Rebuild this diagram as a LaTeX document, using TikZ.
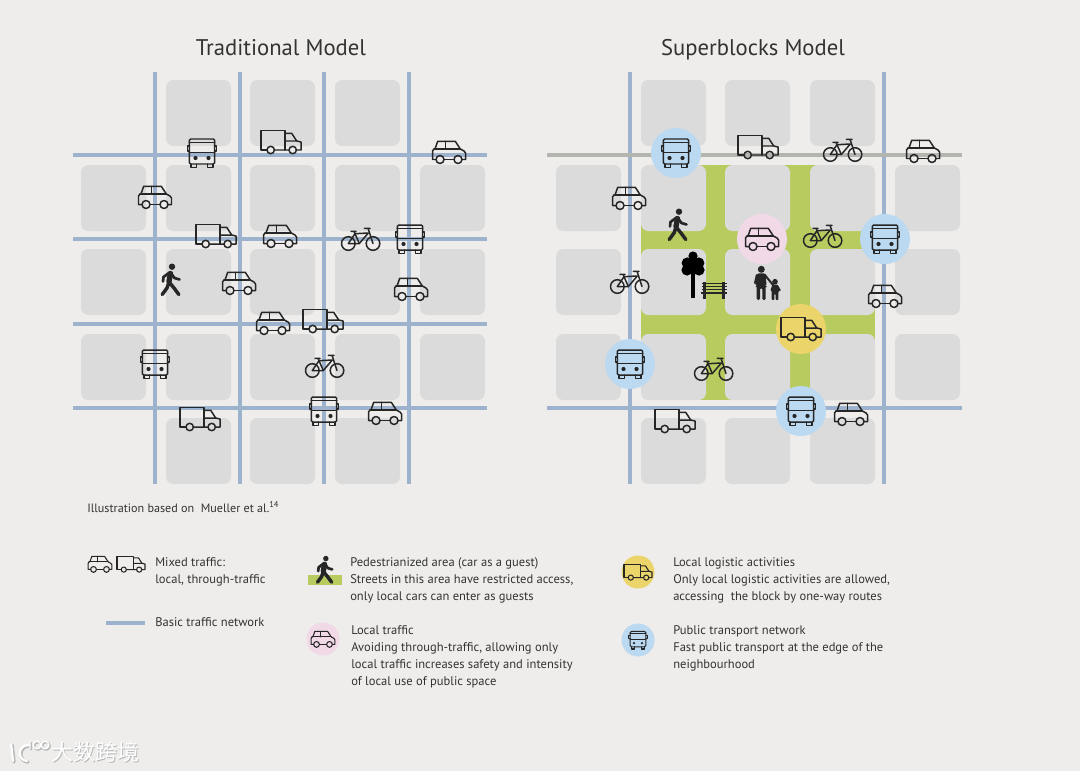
\documentclass[tikz,border=0pt]{standalone}
\usepackage{fontspec}
\setmainfont{PT Sans}
\newfontfamily\cjkwm{Noto Sans CJK SC}
\definecolor{bgc}{HTML}{EEEDEB}
\definecolor{blockc}{HTML}{DBDBDB}
\definecolor{netc}{HTML}{9DB2CC}
\definecolor{grayrd}{HTML}{B5B5B0}
\definecolor{greenc}{HTML}{B7CB5E}
\definecolor{pinkc}{HTML}{F2D9E8}
\definecolor{yelc}{HTML}{EBD56A}
\definecolor{bluec}{HTML}{BBD9F1}
\definecolor{inkc}{HTML}{262626}
\definecolor{textc}{HTML}{333333}
\tikzset{
  x=0.75pt,y=-0.75pt,
  icon/.style={draw=inkc,line width=1.12pt,line join=round,line cap=round},
  block/.style={fill=blockc,rounded corners=5.5pt},
  net/.style={draw=netc,line width=2.3pt},
  legend/.style={font=\fontsize{9.4pt}{12.75pt}\selectfont,text=textc,align=left,inner sep=0pt,anchor=north west},
  title/.style={font=\fontsize{17pt}{20pt}\selectfont,text=textc,inner sep=0pt,anchor=base},
  car/.pic={
    \draw[icon] (-13,7.5)--(-16.5,7.5)--(-16.5,-1)--(-15,-3)--(-14,-3)--(-11.3,-10.7)--(6.3,-10.7)--(11.3,-3)--(15,-1)--(16.5,1)--(16.5,7.5)--(13,7.5);
    \draw[icon] (-5,7.5)--(5,7.5) (-15,-3)--(11.3,-3) (-3.5,-10.7)--(-3.5,-3);
    \draw[icon] (-9,7.5) circle (4) (9,7.5) circle (4);
  },
  truck/.pic={
    \draw[icon] (-14,8)--(-20,8)--(-20,-11.3)--(4,-11.3)--(4,8);
    \draw[icon] (-6.6,8)--(8,8) (15.4,8)--(20,8)--(20,0)--(15.7,-1)--(10.7,-8.7)--(4,-8.7) (4,-1)--(15.7,-1);
    \draw[icon] (-10.3,8) circle (3.7) (11.7,8) circle (3.7);
  },
  bus/.pic={
    \draw[icon,rounded corners=1pt] (-12.7,-14) rectangle (12.7,11);
    \draw[icon] (-12.7,-10.5)--(12.7,-10.5) (-12.7,-0.7)--(12.7,-0.7);
    \draw[icon] (-12.7,-7)--(-14.7,-7)--(-14.7,-2)--(-12.7,-2) (12.7,-7)--(14.7,-7)--(14.7,-2)--(12.7,-2);
    \draw[icon] (-11,11)--(-11,14.5)--(-5.5,14.5)--(-5.5,11) (11,11)--(11,14.5)--(5.5,14.5)--(5.5,11);
    \fill[inkc] (-6.5,5) circle (2.1) (6.5,5) circle (2.1);
  },
  bike/.pic={
    \draw[icon] (-12.7,4.5) circle (6.8) (12,4.5) circle (6.8);
    \draw[icon] (-12.7,4.5)--(-6,-5.3)--(7.3,-6)--(-1.7,4.5)--cycle;
    \draw[icon] (-7,-7.6)--(-1.7,4.5) (12,4.5)--(7,-10.7) (3.3,-10.7)--(9,-10.7) (-10,-7.6)--(-5,-7.6);
  },
  walker/.pic={
    \fill[inkc] (1,-12.3) circle (3.2);
    \draw[inkc,line width=4pt,line cap=round] (-0.5,-5.5)--(-2,2.5);
    \draw[inkc,line width=2pt,line cap=round,line join=round] (-1.5,-6.5)--(-7.5,-2)--(-8,2.5) (0.5,-5)--(3.5,-1)--(8.5,0.5);
    \draw[inkc,line width=2.6pt,line cap=round,line join=round] (-2,3)--(-4,9)--(-8.8,15.5) (-2,3)--(3,9)--(7.8,15.5);
  },
  tree/.pic={
    \fill[black] (0,-18) circle (4.6) (-5.8,-11) circle (5.6) (5.8,-11) circle (5.6) (-6,-4) circle (5.6) (6,-4) circle (5.6) (0,-9) circle (6);
    \fill[black] (-1.8,-3) rectangle (1.8,23.5);
  },
  bench/.pic={
    \draw[inkc,line width=1.3pt] (-12.5,-6.5)--(12.5,-6.5) (-12.5,-3.5)--(12.5,-3.5) (-12.5,-0.5)--(12.5,-0.5);
    \draw[inkc,line width=1.7pt] (-13,3)--(13,3);
    \draw[inkc,line width=1.6pt] (-9.5,-8.5)--(-9.5,8.5) (9.5,-8.5)--(9.5,8.5);
  },
  family/.pic={
    \fill[inkc] (-5.7,-14.7) circle (3.5) (8,-2.3) circle (2.8);
    \fill[inkc,rounded corners=1pt] (-9.5,-10.7)--(-2,-10.7)--(-1,-6)--(-0.5,2)--(-1.3,2)--(-1.3,16)--(-4.7,16)--(-4.7,4)--(-7,4)--(-7,16)--(-10.3,16)--(-10.3,2)--(-11.5,2)--(-11,-6)--cycle;
    \draw[inkc,line width=1.5pt,line cap=round] (-10.2,-9)--(-12,-1) (-2.5,-9.5)--(6,1);
    \fill[inkc,rounded corners=0.6pt] (5.5,0.5)--(10.5,0.5)--(14,6.5)--(11.3,7.5)--(11.3,16)--(8.7,16)--(8.7,10)--(7.3,10)--(7.3,16)--(4.7,16)--(4.7,7)--(3.5,6);
  },
}
\begin{document}
\begin{tikzpicture}
\useasboundingbox (0,0) rectangle (1080,771);
\fill[bgc] (0,0) rectangle (1080,771);

% ---------- Traditional blocks
\foreach \c in {81,166,250,335,420}{\foreach \r in {165,249,334}{\fill[block] (\c,\r) rectangle +(65,66);}}
\foreach \c in {166,250,335}{\foreach \r in {80,418}{\fill[block] (\c,\r) rectangle +(65,66);}}
% network
\foreach \v in {155,240,324,409}{\draw[net] (\v,72)--(\v,484);}
\foreach \h in {155,239,324,408}{\draw[net] (73,\h)--(487,\h);}

\node[title] (t1) at (281,55) {Traditional Model};
\node[title] (t2) at (753,55) {Superblocks Model};

% icons, traditional
\pic at (202,153) {bus};
\pic at (281,142) {truck};
\pic at (449,152) {car};
\pic at (155,197) {car};
\pic at (216,236) {truck};
\pic at (280,236) {car};
\pic at (361,239) {bike};
\pic at (410,239) {bus};
\pic at (171,279) {walker};
\pic at (239,283) {car};
\pic at (411,289) {car};
\pic at (273,323) {car};
\pic at (323,321) {truck};
\pic at (155,364) {bus};
\pic at (325,366) {bike};
\pic at (200,419) {truck};
\pic at (324,411) {bus};
\pic at (385,413) {car};

% ---------- Superblocks: green streets under the blocks
\foreach \c in {699,783}{\fill[greenc] (\c,165) rectangle +(33,235);}
\foreach \r in {224,308}{\fill[greenc] (641,\r) rectangle +(234,32);}
\foreach \c in {556,641,725,810,895}{\foreach \r in {165,249,334}{\fill[block] (\c,\r) rectangle +(65,66);}}
\foreach \c in {641,725,810}{\foreach \r in {80,418}{\fill[block] (\c,\r) rectangle +(65,66);}}
\foreach \v in {630,884}{\draw[net] (\v,72)--(\v,484);}
\draw[draw=grayrd,line width=2.3pt] (547,155)--(962,155);
\draw[net] (547,408)--(962,408);

\fill[bluec] (676,153) circle (25) (885,239) circle (25) (630,364) circle (25) (801,411) circle (25);
\fill[pinkc] (762,239) circle (25);
\fill[yelc] (801,329) circle (25);

\pic at (676,153) {bus};
\pic at (758,147) {truck};
\pic at (843,150) {bike};
\pic at (923,151) {car};
\pic at (629,198) {car};
\pic at (678,224) {walker};
\pic at (762,239) {car};
\pic at (823,236) {bike};
\pic at (885,239) {bus};
\pic at (630,282) {bike};
\pic at (693,274) {tree};
\pic at (714,290) {bench};
\pic at (767,284) {family};
\pic at (885,296) {car};
\pic at (801,329) {truck};
\pic at (630,364) {bus};
\pic at (714,369) {bike};
\pic at (675,421) {truck};
\pic at (801,411) {bus};
\pic at (851,414) {car};

% ---------- Legend
\node[legend,font=\fontsize{9.1pt}{12.75pt}\selectfont] (src) at (87,501) {Illustration based on\ \ Mueller et al.\textsuperscript{14}};

\begin{scope}[icon/.append style={line width=.8pt}]
\pic[scale=.72] at (100,564) {car};
\pic[scale=.7] at (131,564) {truck};
\end{scope}
\node[legend] (l1) at (155,557) {Mixed traffic:\\local, through-traffic};
\draw[net] (106,623)--(145,623);
\node[legend] (l2) at (155,617) {Basic traffic network};

\fill[greenc] (308,575) rectangle (342,585);
\pic[scale=.85] at (325,569) {walker};
\node[legend] (l3) at (350,557) {Pedestrianized area (car as a guest)\\Streets in this area have restricted access,\\only local cars can enter as guests};

\fill[pinkc] (323,639) circle (16.5);
\begin{scope}[icon/.append style={line width=.8pt}]
\pic[scale=.72] at (323,639) {car};
\end{scope}
\node[legend] (l4) at (351,625) {Local traffic\\Avoiding through-traffic, allowing only\\local traffic increases safety and intensity\\of local use of public space};

\fill[yelc] (638,572) circle (16.5);
\fill[bluec] (638,640) circle (16.5);
\begin{scope}[icon/.append style={line width=.8pt}]
\pic[scale=.7] at (638,572) {truck};
\pic[scale=.62] at (638,640) {bus};
\end{scope}
\node[legend] (l5) at (673,557) {Local logistic activities\\Only local logistic activities are allowed,\\accessing\ \ the block by one-way routes};
\node[legend] (l6) at (673,625) {Public transport network\\Fast public transport at the edge of the\\neighbourhood};

% ---------- Watermark
\foreach \dx/\col/\w/\s in {1/black!28/2.6pt/a,0/white/1.7pt/b}{
  \begin{scope}[shift={(\dx,\dx)}]
  \draw[draw=\col,line width=\w,line cap=round] (11,744)--(13,761);
  \draw[draw=\col,line width=\w,line cap=round] (29,745) .. controls (17,745) and (17,760) .. (27,761);
  \draw[draw=\col,line width=\w*0.6] (30,741)--(30,749) (37,745) circle (3.8) (45,745) circle (3.8);
  \node[inner sep=0pt,anchor=west,text=\col,font=\cjkwm\fontsize{16.5pt}{18pt}\selectfont] (wm\s) at (51,752) {大数跨境};
  \end{scope}
}
\end{tikzpicture}
\end{document}
